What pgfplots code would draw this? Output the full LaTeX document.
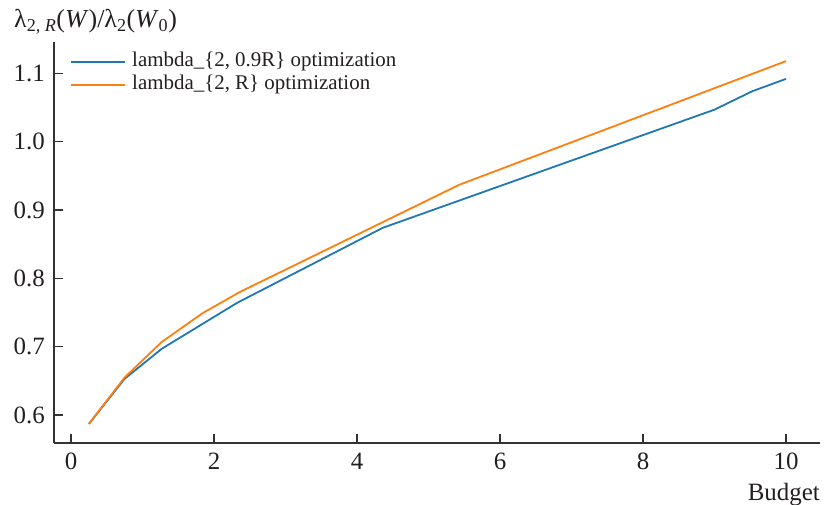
\documentclass[border=0pt]{standalone}
\usepackage{fontspec}
\setmainfont{Liberation Serif}
\usepackage{pgfplots}
\pgfplotsset{compat=1.18}
\definecolor{cblue}{HTML}{1F77B4}
\definecolor{corange}{HTML}{FF7F0E}
\definecolor{axgray}{HTML}{333333}
\definecolor{txt}{HTML}{231F20}
\begin{document}
\begin{tikzpicture}
\path[use as bounding box] (0,0) rectangle (826bp,505bp);
\begin{axis}[
  at={(54bp,62bp)}, anchor=south west,
  scale only axis, width=766bp, height=401bp,
  xmin=-0.238, xmax=10.475, ymin=0.559, ymax=1.146,
  axis x line=bottom, axis y line=left,
  axis line style={-, draw=axgray, line width=1.2bp},
  xtick={0,2,4,6,8,10},
  ytick={0.6,0.7,0.8,0.9,1.0,1.1},
  tick align=inside, major tick length=9bp,
  tick style={draw=axgray, line width=1.2bp},
  /pgf/number format/assume math mode=true,
  xticklabel style={font=\fontsize{25}{30}\selectfont, text=txt, anchor=north, inner sep=0pt, yshift=-10bp},
  yticklabel style={font=\fontsize{25}{30}\selectfont, text=txt, anchor=east, inner sep=0pt, xshift=-9bp,
    /pgf/number format/fixed, /pgf/number format/precision=1, /pgf/number format/fixed zerofill},
  every axis y label/.style={at={(rel axis cs:0,1)}, anchor=base west, xshift=-40bp, yshift=14bp,
    font=\fontsize{26}{30}\selectfont, text=txt, inner sep=0pt},
  every axis x label/.style={at={(rel axis cs:1,0)}, anchor=base east, yshift=-57bp,
    font=\fontsize{25}{30}\selectfont, text=txt, inner sep=0pt},
  ylabel={λ\textsubscript{2, \textit{R}}(\textit{W})/λ\textsubscript{2}(\textit{W}\textsubscript{0})},
  xlabel={Budget},
  legend style={draw=none, fill=none, at={(rel axis cs:0,1)}, anchor=north west,
    xshift=16bp, yshift=-9bp, inner sep=0pt, outer sep=0pt, column sep=5bp,
    font=\fontsize{21}{23}\selectfont,
    nodes={inner sep=1bp, text height=15bp, text depth=6bp, text=txt}},
  legend cell align=left,
  legend image code/.code={\draw[#1, line width=2.2bp] (0bp,0.5bp) -- (54bp,0.5bp);},
]
\addplot[draw=cblue, line width=1.8bp] coordinates {
  (0.25,0.587) (0.75,0.653) (1.27,0.697) (2.32,0.764) (4.36,0.874)
  (9.0,1.047) (9.53,1.074) (10.0,1.092)
};
\addlegendentry{lambda\_\{2, 0.9R\} optimization}
\addplot[draw=corange, line width=1.8bp] coordinates {
  (0.25,0.587) (0.75,0.655) (1.27,0.707) (1.84,0.749) (2.36,0.780)
  (5.43,0.937) (10.0,1.118)
};
\addlegendentry{lambda\_\{2, R\} optimization}
\end{axis}
\end{tikzpicture}
\end{document}
